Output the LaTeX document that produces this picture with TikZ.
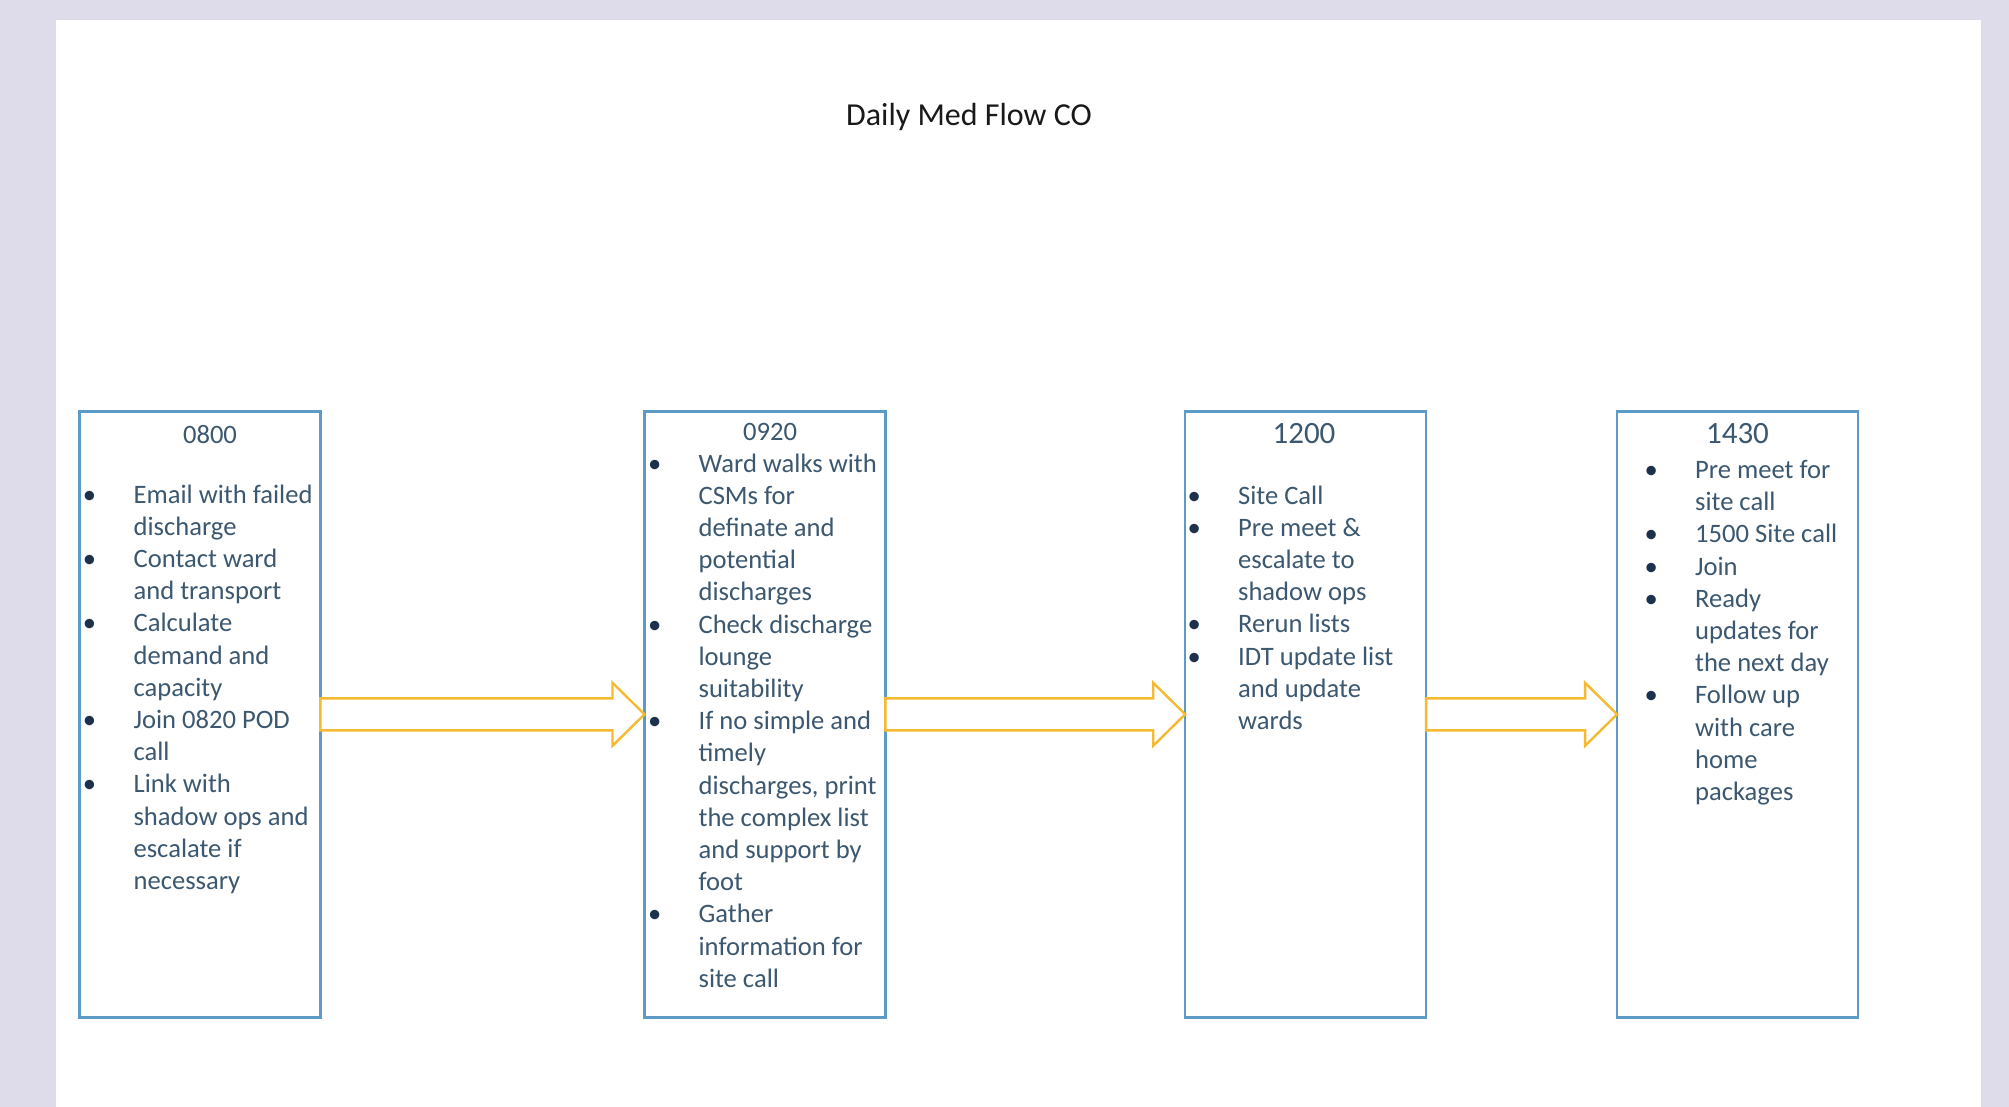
\documentclass[tikz,border=0pt]{standalone}
\usepackage{fontspec}
\setmainfont{Carlito}
\usetikzlibrary{calc}
\definecolor{pagebg}{RGB}{222,220,234}
\definecolor{boxcol}{RGB}{92,155,198}
\definecolor{arrcol}{RGB}{245,185,50}
\definecolor{txtcol}{RGB}{60,88,112}
\definecolor{bulcol}{RGB}{28,50,76}
\definecolor{titlecol}{RGB}{25,25,25}
\newcommand\bi{\makebox[25.3pt][l]{\textcolor{bulcol}{•}}}
\newcommand\ci{\makebox[25.3pt][l]{}}
\tikzset{
  stepbox/.style={draw=boxcol, line width=1.25pt, fill=white, rectangle, inner sep=0pt, outer sep=0pt,
    minimum width=120.45pt, minimum height=303pt},
  flowarrow/.style={draw=arrcol, line width=1.2pt, fill=white, line join=miter},
  bodytxt/.style={text=txtcol, inner sep=0pt, outer sep=0pt, align=left, anchor=north west,
    font=\fontsize{13.3}{16.1}\selectfont},
  headtxt/.style={text=txtcol, inner sep=0pt, anchor=base, font=\fontsize{13.3}{16.1}\selectfont},
  bigheadtxt/.style={text=txtcol, inner sep=0pt, anchor=base, font=\fontsize{15.5}{18}\selectfont},
  titletxt/.style={text=titlecol, inner sep=0pt, anchor=base, font=\fontsize{16}{19}\selectfont}
}
\begin{document}
\begin{tikzpicture}[x=0.5pt,y=-0.5pt]
\useasboundingbox (0,0) rectangle (2009,1107);
\fill[pagebg] (0,0) rectangle (2009,1107);
\fill[white] (56,20) rectangle (1981,1107);

\node[titletxt] (title) at (969,125.6) {Daily Med Flow CO};

\node[stepbox] (b1) at (199.85,714.3) {};
\node[stepbox] (b2) at (764.95,714.3) {};
\node[stepbox] (b3) at (1305.65,714.3) {};
\node[stepbox] (b4) at (1737.5,714.3) {};

\draw[flowarrow] ($(b1.east)+(0,-16)$) -- ($(b2.west)+(-32,-16)$) -- ($(b2.west)+(-32,-31.5)$) -- (b2.west)
  -- ($(b2.west)+(-32,31.5)$) -- ($(b2.west)+(-32,16)$) -- ($(b1.east)+(0,16)$) -- cycle;
\draw[flowarrow] ($(b2.east)+(0,-16)$) -- ($(b3.west)+(-32,-16)$) -- ($(b3.west)+(-32,-31.5)$) -- (b3.west)
  -- ($(b3.west)+(-32,31.5)$) -- ($(b3.west)+(-32,16)$) -- ($(b2.east)+(0,16)$) -- cycle;
\draw[flowarrow] ($(b3.east)+(0,-16)$) -- ($(b4.west)+(-32,-16)$) -- ($(b4.west)+(-32,-31.5)$) -- (b4.west)
  -- ($(b4.west)+(-32,31.5)$) -- ($(b4.west)+(-32,16)$) -- ($(b3.east)+(0,16)$) -- cycle;

\node[headtxt] (h1) at (210,444) {0800};
\node[headtxt] (h2) at (770,440) {0920};
\node[bigheadtxt] (h3) at (1304,444) {1200};
\node[bigheadtxt] (h4) at (1737.5,444) {1430};

\node[bodytxt] (t1) at (83,480.5) {\strut\bi Email with failed\\\ci discharge\\\bi Contact ward\\\ci and transport\\\bi Calculate\\\ci demand and\\\ci capacity\\\bi Join 0820 POD\\\ci call\\\bi Link with\\\ci shadow ops and\\\ci escalate if\\\ci necessary};

\node[bodytxt] (t2) at (648,449.5) {\strut\bi Ward walks with\\\ci CSMs for\\\ci definate and\\\ci potential\\\ci discharges\\\bi Check discharge\\\ci lounge\\\ci suitability\\\bi If no simple and\\\ci timely\\\ci discharges, print\\\ci the complex list\\\ci and support by\\\ci foot\\\bi Gather\\\ci information for\\\ci site call};

\node[bodytxt] (t3) at (1187.5,481.5) {\strut\bi Site Call\\\bi Pre meet \&\\\ci escalate to\\\ci shadow ops\\\bi Rerun lists\\\bi IDT update list\\\ci and update\\\ci wards};

\node[bodytxt] (t4) at (1644.5,456) {\strut\bi Pre meet for\\\ci site call\\\bi 1500 Site call\\\bi Join\\\bi Ready\\\ci updates for\\\ci the next day\\\bi Follow up\\\ci with care\\\ci home\\\ci packages};
\end{tikzpicture}
\end{document}
